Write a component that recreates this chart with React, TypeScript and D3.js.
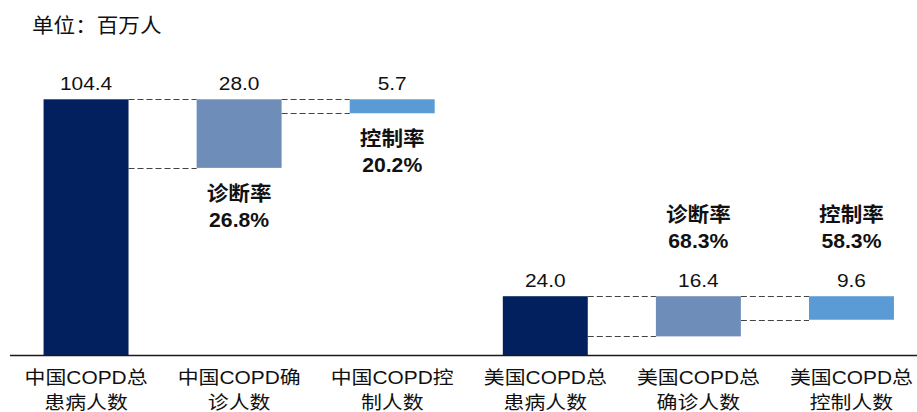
import React from "react";
import * as d3 from "d3";

const categories: string[][] = [
  ["中国COPD总", "患病人数"],
  ["中国COPD确", "诊人数"],
  ["中国COPD控", "制人数"],
  ["美国COPD总", "患病人数"],
  ["美国COPD总", "确诊人数"],
  ["美国COPD总", "控制人数"],
];
// role: 0 = total, 1 = diagnosed, 2 = controlled
const roles = [0, 1, 2, 0, 1, 2];
const values = [104.4, 28.0, 5.7, 24.0, 16.4, 9.6];
const valueLabels = ["104.4", "28.0", "5.7", "24.0", "16.4", "9.6"];
const rateNames = ["诊断率", "控制率", "诊断率", "控制率"];
const rateValues = ["26.8%", "20.2%", "68.3%", "58.3%"];
const rateIndex = [1, 2, 4, 5];
const title = "单位：百万人";

const W = 917;
const H = 412;
const COLORS = ["#02205E", "#6F8DB9", "#5B9BD5"];
const FONT = "'Liberation Sans', Arial, 'Noto Sans CJK SC', sans-serif";

function T(props: {
  x: number;
  y: number;
  text: string;
  size: number;
  bold?: boolean;
  sx?: number;
  anchor?: string;
}) {
  const { x, y, text, size, bold, sx = 1.12, anchor = "middle" } = props;
  return (
    <text
      transform={`translate(${x},${y}) scale(${sx},1)`}
      textAnchor={anchor}
      fontSize={size}
      fontWeight={bold ? 700 : 400}
      fontFamily={FONT}
      fill="#111"
    >
      {text}
    </text>
  );
}

export default function App() {
  const x = d3
    .scaleBand<number>()
    .domain(d3.range(values.length))
    .range([9.5, 928])
    .paddingInner(0.445)
    .paddingOuter(0.2225);
  const y = d3.scaleLinear().domain([0, 104.4]).range([355, 99.3]);
  const bw = x.bandwidth();

  // compute bar extents (waterfall hanging from group total)
  const bars = values.map((v, i) => {
    const r = roles[i];
    const groupTotal = r === 0 ? v : values[i - r];
    const top = groupTotal;
    const bottom = r === 0 ? 0 : groupTotal - v;
    return { i, top, bottom, r };
  });

  const connectors: { x1: number; x2: number; yv: number }[] = [];
  bars.forEach((b) => {
    if (b.r > 0) {
      const prev = bars[b.i - 1];
      const x1 = (x(prev.i) as number) + bw;
      const x2 = x(b.i) as number;
      connectors.push({ x1, x2, yv: b.top });
      connectors.push({ x1, x2, yv: b.bottom });
    }
  });

  return (
    <svg
      width={W}
      height={H}
      style={{ position: "absolute", left: 0, top: 0, background: "#fff" }}
    >
      <T x={32} y={33} text={title} size={20} anchor="start" sx={1.08} />
      {connectors.map((c, k) => (
        <line
          key={"c" + k}
          x1={c.x1}
          x2={c.x2}
          y1={Math.round(y(c.yv)) + 0.5}
          y2={Math.round(y(c.yv)) + 0.5}
          stroke="#444"
          strokeWidth={1.2}
          strokeDasharray="6,3"
        />
      ))}
      {bars.map((b) => (
        <rect
          key={"b" + b.i}
          x={x(b.i)}
          width={bw}
          y={y(b.top)}
          height={y(b.bottom) - y(b.top)}
          fill={COLORS[b.r]}
        />
      ))}
      {bars.map((b) => (
        <T
          key={"v" + b.i}
          x={(x(b.i) as number) + bw / 2}
          y={y(b.top) - 9.5}
          text={valueLabels[b.i]}
          size={19}
          sx={1.1}
        />
      ))}
      {rateIndex.map((idx, k) => {
        const b = bars[idx];
        const cx = (x(idx) as number) + bw / 2;
        const china = idx < 3;
        const y1 = china ? y(b.bottom) + 33 : 222;
        return (
          <g key={"r" + k}>
            <T x={cx} y={y1} text={rateNames[k]} size={20} bold sx={1.08} />
            <T x={cx} y={y1 + 26} text={rateValues[k]} size={20} bold sx={1.06} />
          </g>
        );
      })}
      <line x1={10} x2={W} y1={355.5} y2={355.5} stroke="#1a1a1a" strokeWidth={1.6} />
      {categories.map((lines, i) => {
        const cx = (x(i) as number) + bw / 2;
        return (
          <g key={"l" + i}>
            <T x={cx} y={384} text={lines[0]} size={18.5} sx={1.13} />
            <T x={cx} y={408.5} text={lines[1]} size={18.5} sx={1.13} />
          </g>
        );
      })}
    </svg>
  );
}
